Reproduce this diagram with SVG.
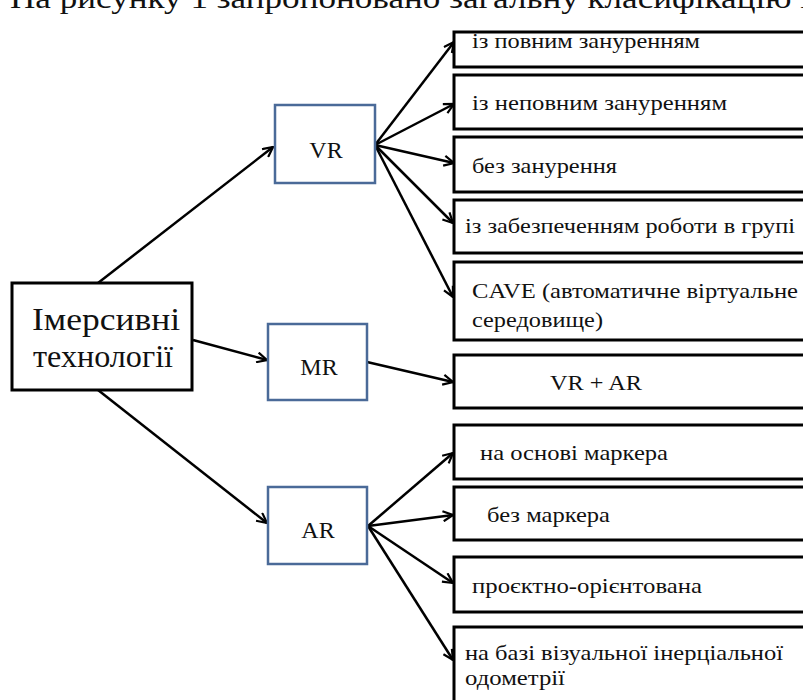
<svg xmlns="http://www.w3.org/2000/svg" width="803" height="700" viewBox="0 0 803 700">
<style>
text{font-family:"Liberation Serif","Noto Serif","DejaVu Serif","FreeSerif","Tinos","Times New Roman",serif;fill:#111}
.leaf{fill:#fff;stroke:#000;stroke-width:3}
.mid{fill:#fff;stroke:#4a6a98;stroke-width:2.5}
.root{fill:#fff;stroke:#000;stroke-width:3}
.t{font-size:22px}
.m{font-size:24px}
.r{font-size:32px}
.c line{stroke:#000;stroke-width:2.5;marker-end:url(#ah)}
</style>
<defs>
<marker id="ah" viewBox="0 0 12 12" refX="11" refY="6" markerWidth="12" markerHeight="12" markerUnits="userSpaceOnUse" orient="auto">
<path d="M1,1 L11,6 L1,11" fill="none" stroke="#000" stroke-width="2.2"/>
</marker>
</defs>
<rect width="803" height="700" fill="#fff"/>
<text x="10" y="8" style="font-size:30px" textLength="800" lengthAdjust="spacingAndGlyphs">На рисунку 1 запропоновано загальну класифікацію і</text>

<g class="c" id="connectors">
<line x1="98" y1="283" x2="273" y2="147"/>
<line x1="193" y1="340" x2="267" y2="360"/>
<line x1="98" y1="390" x2="267" y2="523"/>
<line x1="375" y1="145" x2="454" y2="42"/>
<line x1="375" y1="145" x2="454" y2="104"/>
<line x1="375" y1="145" x2="454" y2="163"/>
<line x1="375" y1="145" x2="453" y2="223"/>
<line x1="375" y1="145" x2="453" y2="297"/>
<line x1="367" y1="362" x2="453" y2="382"/>
<line x1="368" y1="526" x2="453" y2="453"/>
<line x1="368" y1="526" x2="453" y2="515"/>
<line x1="368" y1="526" x2="453" y2="583"/>
<line x1="368" y1="526" x2="453" y2="660"/>
</g>

<g id="root"><rect class="root" x="12" y="283" width="180" height="107"/>
<text class="r" x="32" y="330" textLength="148" lengthAdjust="spacingAndGlyphs">Імерсивні</text>
<text class="r" x="33" y="367" textLength="140" lengthAdjust="spacingAndGlyphs">технології</text></g>

<g id="vr"><rect class="mid" x="275" y="105" width="100" height="78"/>
<text class="m" x="326" y="158" text-anchor="middle">VR</text></g>
<g id="mr"><rect class="mid" x="268" y="324" width="99" height="76"/>
<text class="m" x="319" y="375" text-anchor="middle">MR</text></g>
<g id="ar"><rect class="mid" x="268" y="487" width="99" height="77"/>
<text class="m" x="318" y="538" text-anchor="middle">AR</text></g>

<g id="vr1"><rect class="leaf" x="454" y="32" width="360" height="35"/>
<text class="t" x="472" y="48" textLength="228" lengthAdjust="spacingAndGlyphs">із повним зануренням</text></g>
<g id="vr2"><rect class="leaf" x="454" y="75" width="360" height="54"/>
<text class="t" x="472" y="110" textLength="255" lengthAdjust="spacingAndGlyphs">із неповним зануренням</text></g>
<g id="vr3"><rect class="leaf" x="454" y="137" width="360" height="55"/>
<text class="t" x="472" y="173" textLength="145" lengthAdjust="spacingAndGlyphs">без занурення</text></g>
<g id="vr4"><rect class="leaf" x="454" y="200" width="360" height="53"/>
<text class="t" x="465" y="233" textLength="330" lengthAdjust="spacingAndGlyphs">із забезпеченням роботи в групі</text></g>
<g id="vr5"><rect class="leaf" x="454" y="262" width="360" height="78"/>
<text class="t" x="472" y="298" textLength="326" lengthAdjust="spacingAndGlyphs">CAVE (автоматичне віртуальне</text>
<text class="t" x="472" y="327" textLength="131" lengthAdjust="spacingAndGlyphs">середовище)</text></g>
<g id="mr1"><rect class="leaf" x="454" y="355" width="360" height="53"/>
<text class="t" x="550" y="390" textLength="92" lengthAdjust="spacingAndGlyphs">VR + AR</text></g>
<g id="ar1"><rect class="leaf" x="454" y="425" width="360" height="54"/>
<text class="t" x="480" y="460" textLength="188" lengthAdjust="spacingAndGlyphs">на основі маркера</text></g>
<g id="ar2"><rect class="leaf" x="454" y="487" width="360" height="53"/>
<text class="t" x="487" y="522" textLength="123" lengthAdjust="spacingAndGlyphs">без маркера</text></g>
<g id="ar3"><rect class="leaf" x="454" y="557" width="360" height="55"/>
<text class="t" x="472" y="593" textLength="230" lengthAdjust="spacingAndGlyphs">проєктно-орієнтована</text></g>
<g id="ar4"><rect class="leaf" x="454" y="627" width="360" height="90"/>
<text class="t" x="465" y="660" textLength="318" lengthAdjust="spacingAndGlyphs">на базі візуальної інерціальної</text>
<text class="t" x="465" y="685" textLength="100" lengthAdjust="spacingAndGlyphs">одометрії</text></g>
</svg>
